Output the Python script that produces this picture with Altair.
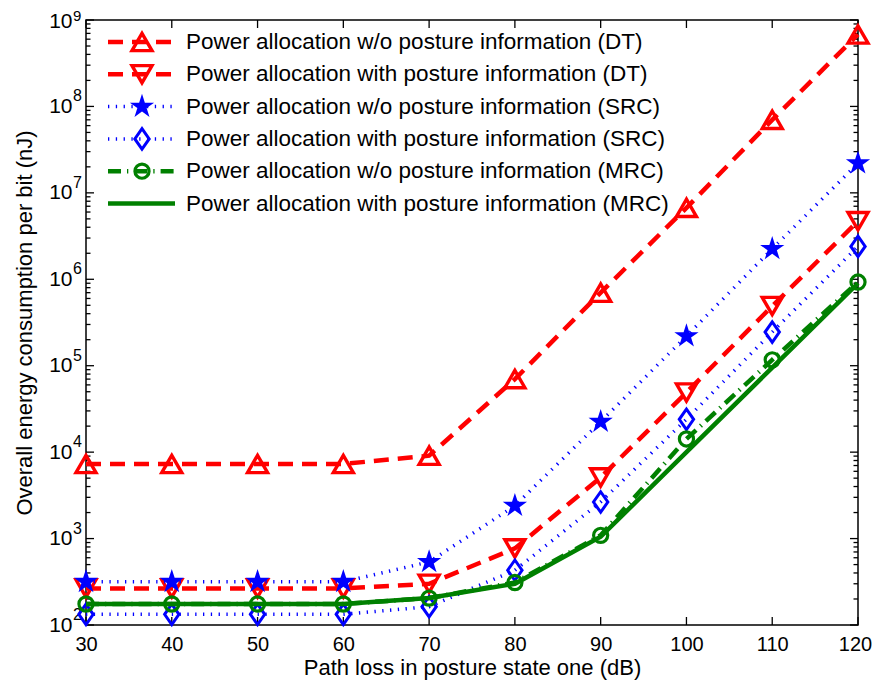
import altair as alt
import pandas as pd

FONT = "Liberation Sans"

# ---- data ----
x_db = [30, 40, 50, 60, 70, 80, 90, 100, 110, 120]
dt_wo = [7300, 7300, 7300, 7300, 9100, 7.0e4, 7.0e5, 6.7e6, 7.0e7, 6.8e8]
dt_with = [265, 265, 265, 265, 300, 770, 5100, 4.9e4, 4.9e5, 4.7e6]
src_wo = [316, 316, 316, 316, 537, 2400, 2.25e4, 2.2e5, 2.25e6, 2.2e7]
src_with = [133, 133, 133, 133, 163, 430, 2650, 2.4e4, 2.45e5, 2.4e6]
mrc_wo = [175, 175, 175, 175, 205, 310, 1090, 1.42e4, 1.17e5, 9.3e5]
mrc_with = [175, 175, 175, 175, 205, 300, 1050, 1.0e4, 9.5e4, 9.0e5]

series_labels = [
    "Power allocation w/o posture information (DT)",
    "Power allocation with posture information (DT)",
    "Power allocation w/o posture information (SRC)",
    "Power allocation with posture information (SRC)",
    "Power allocation w/o posture information (MRC)",
    "Power allocation with posture information (MRC)",
]
x_ticks = [30, 40, 50, 60, 70, 80, 90, 100, 110, 120]
y_exponents = [2, 3, 4, 5, 6, 7, 8, 9]

# ---- styling ----
W, H = 772, 605
RED, BLUE, GREEN = "#ff0000", "#0000ff", "#008000"
STAR = ("M0,-1L0.2245,-0.309L0.951,-0.309L0.3633,0.118L0.588,0.809L0,0.382"
        "L-0.588,0.809L-0.3633,0.118L-0.951,-0.309L-0.2245,-0.309Z")
DIAMOND = "M0,-1L0.7,0L0,1L-0.7,0Z"

styles = [
    dict(color=RED, sw=4.5, dash=[15, 9], shape="triangle-up", size=400, filled=False, msw=3.4),
    dict(color=RED, sw=4.5, dash=[15, 9], shape="triangle-down", size=400, filled=False, msw=3.4),
    dict(color=BLUE, sw=3.5, dash=[1.3, 6.5], shape=STAR, size=650, filled=True, msw=1),
    dict(color=BLUE, sw=3.5, dash=[1.3, 6.5], shape=DIAMOND, size=420, filled=False, msw=3),
    dict(color=GREEN, sw=4.5, dash=[13, 6, 1.3, 6], shape="circle", size=200, filled=False, msw=3.2),
    dict(color=GREEN, sw=4.5, dash=None, shape=None, size=0, filled=False, msw=0),
]
series_values = [dt_wo, dt_with, src_wo, src_with, mrc_wo, mrc_with]

x_scale = alt.Scale(domain=[30, 120], nice=False, zero=False)
y_scale = alt.Scale(type="log", domain=[1e2, 1e9], nice=False)

x_axis = alt.Axis(values=x_ticks, title="Path loss in posture state one (dB)",
                  domain=False, ticks=False, grid=False, labelFlush=False, labelOverlap=False,
                  labelOffset={"condition": {"test": "datum.value == 120", "value": -3}, "value": 0},
                  labelFont=FONT, labelFontSize=20, labelColor="black", labelPadding=9,
                  titleFont=FONT, titleFontSize=22, titleFontWeight="normal",
                  titleColor="black", titlePadding=3)
y_axis = alt.Axis(values=[10 ** k for k in y_exponents], labelExpr="'10'",
                  labelOffset={"condition": {"test": "datum.value >= 1e9", "value": 1}, "value": 0},
                  title="Overall energy consumption per bit (nJ)",
                  domain=False, ticks=False, grid=False, labelFlush=False, labelOverlap=False,
                  labelFont=FONT, labelFontSize=21, labelColor="black", labelPadding=14,
                  titleFont=FONT, titleFontSize=22, titleFontWeight="normal",
                  titleColor="black", titlePadding=12)

x_enc = alt.X("x:Q", scale=x_scale, axis=x_axis)
y_enc = alt.Y("y:Q", scale=y_scale, axis=y_axis)

layers = []

# ---- inward ticks ----
xt = pd.DataFrame({"x": x_ticks})
layers.append(alt.Chart(xt).mark_rule(color="black", strokeWidth=1.3).encode(
    x=x_enc, y=alt.value(H), y2=alt.value(H - 8)))
layers.append(alt.Chart(xt).mark_rule(color="black", strokeWidth=1.3).encode(
    x=x_enc, y=alt.value(0), y2=alt.value(8)))
yt_major = pd.DataFrame({"y": [10 ** k for k in y_exponents]})
yt_minor = pd.DataFrame({"y": [m * 10 ** k for k in y_exponents[:-1] for m in range(2, 10)]})
for df, ln in ((yt_major, 8), (yt_minor, 4.5)):
    layers.append(alt.Chart(df).mark_rule(color="black", strokeWidth=1.3).encode(
        y=y_enc, x=alt.value(0), x2=alt.value(ln)))
    layers.append(alt.Chart(df).mark_rule(color="black", strokeWidth=1.3).encode(
        y=y_enc, x=alt.value(W), x2=alt.value(W - ln)))

# exponent superscripts of the y labels (top one lowered a bit to stay on the page)
exp_df = pd.DataFrame({"y": [10 ** k for k in y_exponents[:-1]],
                       "e": [str(k) for k in y_exponents[:-1]]})
layers.append(alt.Chart(exp_df).mark_text(align="left", baseline="middle", dy=-10,
                                          font=FONT, fontSize=16, color="black").encode(
    y=y_enc, x=alt.value(-13), text="e:N"))
top_df = pd.DataFrame({"y": [10 ** y_exponents[-1]], "e": [str(y_exponents[-1])]})
layers.append(alt.Chart(top_df).mark_text(align="left", baseline="middle", dy=-4,
                                          font=FONT, fontSize=15, color="black").encode(
    y=y_enc, x=alt.value(-13), text="e:N"))

# ---- series ----
for vals, st in zip(series_values, styles):
    df = pd.DataFrame({"x": x_db, "y": vals})
    line_kw = dict(color=st["color"], strokeWidth=st["sw"], strokeCap="butt")
    if st["dash"]:
        line_kw["strokeDash"] = st["dash"]
    layers.append(alt.Chart(df).mark_line(**line_kw).encode(x=x_enc, y=y_enc))
    if st["shape"]:
        layers.append(alt.Chart(df).mark_point(
            shape=st["shape"], size=st["size"], filled=st["filled"], color=st["color"],
            strokeWidth=st["msw"], opacity=1, fillOpacity=1).encode(x=x_enc, y=y_enc))

# ---- legend (inside the plot, top-left) ----
for i, (lab, st) in enumerate(zip(series_labels, styles)):
    ry = 22 + 32.3 * i
    ldf = pd.DataFrame({"label": [lab]})
    rule_kw = dict(color=st["color"], strokeWidth=st["sw"], strokeCap="butt")
    if st["dash"]:
        rule_kw["strokeDash"] = st["dash"]
    layers.append(alt.Chart(ldf).mark_rule(**rule_kw).encode(
        x=alt.value(22), x2=alt.value(89), y=alt.value(ry)))
    if st["shape"]:
        layers.append(alt.Chart(ldf).mark_point(
            shape=st["shape"], size=st["size"], filled=st["filled"], color=st["color"],
            strokeWidth=st["msw"], opacity=1, fillOpacity=1).encode(
            x=alt.value(56), y=alt.value(ry)))
    layers.append(alt.Chart(ldf).mark_text(align="left", baseline="middle", font=FONT,
                                           fontSize=22.5, color="black").encode(
        x=alt.value(100), y=alt.value(ry), text="label:N"))

chart = alt.layer(*layers).properties(
    width=W, height=H,
    autosize=alt.AutoSizeParams(type="none"),
    padding={"left": 78, "top": 12, "right": 15, "bottom": 56},
    background="white",
).configure_view(stroke="black", strokeWidth=1.5)

chart.save("out.html", embed_options={"renderer": "svg", "actions": False})
